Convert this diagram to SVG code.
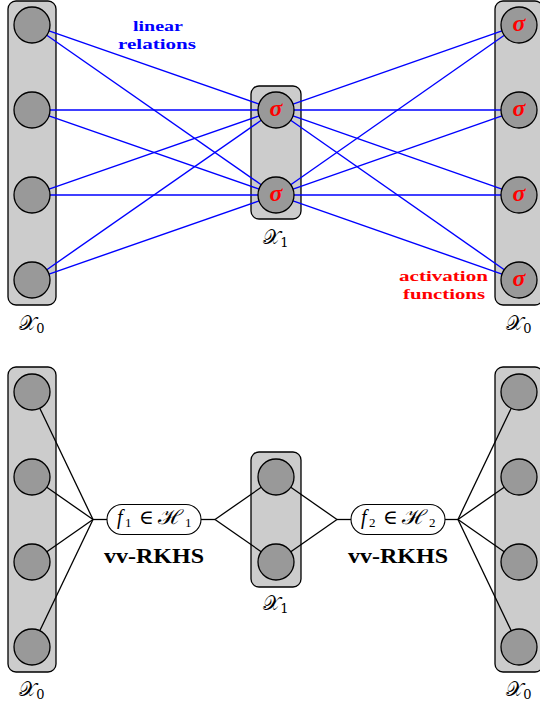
<svg xmlns="http://www.w3.org/2000/svg" width="540" height="705" viewBox="0 0 540 705">
<style>
.col{fill:#cccccc;stroke:#000;stroke-width:1.3}
.nd{fill:#999999;stroke:#000;stroke-width:1.3}
.pill{fill:#fff;stroke:#000;stroke-width:1.1}
.lin{stroke:#0000ff;stroke-width:1.4;fill:none}
.blk{stroke:#000;stroke-width:1.3;fill:none}
.sig{font-family:"Liberation Serif","DejaVu Serif",serif;font-weight:bold;font-style:italic;font-size:24px;fill:#ff0000;text-anchor:middle}
.lbl{font-family:"Liberation Serif",serif;font-weight:bold;font-size:15px;text-anchor:middle}
.rk{font-family:"Liberation Serif",serif;font-weight:bold;font-size:21px;text-anchor:middle;fill:#000}
.cal{font-family:"DejaVu Serif","DejaVu Sans","Noto Sans",serif;font-size:20px;text-anchor:middle;fill:#000}
.math{font-family:"Liberation Serif","DejaVu Serif",serif;font-size:20px;fill:#000}
.sub{font-size:13px}
</style>

<!-- containers (top) -->
<g id="layer-x0-in-top">
<rect class="col" x="8" y="1" width="48" height="304" rx="8"/>
<text class="cal" x="32" y="330">𝒳<tspan class="sub" dy="3">0</tspan></text>
</g>
<g id="layer-x1-top">
<rect class="col" x="251" y="86" width="50" height="133" rx="8"/>
<text class="cal" x="276" y="244">𝒳<tspan class="sub" dy="3">1</tspan></text>
</g>
<g id="layer-x0-out-top">
<rect class="col" x="495" y="1" width="48" height="304" rx="8"/>
<text class="cal" x="519" y="330">𝒳<tspan class="sub" dy="3">0</tspan></text>
</g>

<!-- containers (bottom) -->
<g id="layer-x0-in-bottom">
<rect class="col" x="8" y="367" width="48" height="305" rx="8"/>
<text class="cal" x="32" y="696">𝒳<tspan class="sub" dy="3">0</tspan></text>
</g>
<g id="layer-x1-bottom">
<rect class="col" x="251" y="452" width="50" height="135" rx="8"/>
<text class="cal" x="276" y="610">𝒳<tspan class="sub" dy="3">1</tspan></text>
</g>
<g id="layer-x0-out-bottom">
<rect class="col" x="495" y="367" width="48" height="305" rx="8"/>
<text class="cal" x="519" y="696">𝒳<tspan class="sub" dy="3">0</tspan></text>
</g>

<!-- connectors -->
<g id="connectors">
<g class="lin">
<line x1="49" y1="30.9" x2="259" y2="104.1"/>
<line x1="46.8" y1="35.3" x2="261.2" y2="184.7"/>
<line x1="50" y1="110" x2="258" y2="110"/>
<line x1="49" y1="115.9" x2="259" y2="189.1"/>
<line x1="49" y1="189.1" x2="259" y2="115.9"/>
<line x1="50" y1="195" x2="258" y2="195"/>
<line x1="46.8" y1="269.7" x2="261.2" y2="120.3"/>
<line x1="49" y1="274.1" x2="259" y2="200.9"/>
<line x1="293" y1="104.1" x2="502" y2="30.9"/>
<line x1="294" y1="110" x2="501" y2="110"/>
<line x1="293" y1="115.9" x2="502" y2="189.1"/>
<line x1="290.7" y1="120.3" x2="504.3" y2="269.7"/>
<line x1="290.7" y1="184.7" x2="504.3" y2="35.3"/>
<line x1="293" y1="189.1" x2="502" y2="115.9"/>
<line x1="294" y1="195" x2="501" y2="195"/>
<line x1="293" y1="200.9" x2="502" y2="274.1"/>
</g>
<g class="blk">
<line x1="93" y1="519.5" x2="39.8" y2="408.2"/>
<line x1="93" y1="519.5" x2="46.8" y2="487.3"/>
<line x1="93" y1="519.5" x2="46.8" y2="551.7"/>
<line x1="93" y1="519.5" x2="39.8" y2="630.8"/>
<line x1="93" y1="519.5" x2="107" y2="519.5"/>
<line x1="201" y1="519.5" x2="215" y2="519.5"/>
<line x1="215" y1="519.5" x2="261.2" y2="487.3"/>
<line x1="215" y1="519.5" x2="261.2" y2="551.7"/>
<line x1="290.8" y1="487.3" x2="337" y2="519.5"/>
<line x1="290.8" y1="551.7" x2="337" y2="519.5"/>
<line x1="337" y1="519.5" x2="351" y2="519.5"/>
<line x1="445" y1="519.5" x2="458" y2="519.5"/>
<line x1="458" y1="519.5" x2="511.2" y2="408.2"/>
<line x1="458" y1="519.5" x2="504.2" y2="487.3"/>
<line x1="458" y1="519.5" x2="504.2" y2="551.7"/>
<line x1="458" y1="519.5" x2="511.2" y2="630.8"/>
</g>
</g>

<!-- top nodes -->
<g id="t-in-1"><circle class="nd" cx="32" cy="25" r="18"/></g>
<g id="t-in-2"><circle class="nd" cx="32" cy="110" r="18"/></g>
<g id="t-in-3"><circle class="nd" cx="32" cy="195" r="18"/></g>
<g id="t-in-4"><circle class="nd" cx="32" cy="280" r="18"/></g>
<g id="t-mid-1"><circle class="nd" cx="276" cy="110" r="18"/><text class="sig" x="276" y="115.5">σ</text></g>
<g id="t-mid-2"><circle class="nd" cx="276" cy="195" r="18"/><text class="sig" x="276" y="200.5">σ</text></g>
<g id="t-out-1"><circle class="nd" cx="519" cy="25" r="18"/><text class="sig" x="519" y="30.5">σ</text></g>
<g id="t-out-2"><circle class="nd" cx="519" cy="110" r="18"/><text class="sig" x="519" y="115.5">σ</text></g>
<g id="t-out-3"><circle class="nd" cx="519" cy="195" r="18"/><text class="sig" x="519" y="200.5">σ</text></g>
<g id="t-out-4"><circle class="nd" cx="519" cy="280" r="18"/><text class="sig" x="519" y="285.5">σ</text></g>

<g id="label-linear">
<text class="lbl" fill="#0000ff" x="158" y="30.5" textLength="50" lengthAdjust="spacingAndGlyphs">linear</text>
<text class="lbl" fill="#0000ff" x="157" y="48.5" textLength="78" lengthAdjust="spacingAndGlyphs">relations</text>
</g>
<g id="label-activation">
<text class="lbl" fill="#ff0000" x="443.5" y="281" textLength="89" lengthAdjust="spacingAndGlyphs">activation</text>
<text class="lbl" fill="#ff0000" x="444" y="299" textLength="82" lengthAdjust="spacingAndGlyphs">functions</text>
</g>

<!-- bottom nodes -->
<g id="b-in-1"><circle class="nd" cx="32" cy="392" r="18"/></g>
<g id="b-in-2"><circle class="nd" cx="32" cy="477" r="18"/></g>
<g id="b-in-3"><circle class="nd" cx="32" cy="562" r="18"/></g>
<g id="b-in-4"><circle class="nd" cx="32" cy="647" r="18"/></g>
<g id="b-mid-1"><circle class="nd" cx="276" cy="477" r="18"/></g>
<g id="b-mid-2"><circle class="nd" cx="276" cy="562" r="18"/></g>
<g id="b-out-1"><circle class="nd" cx="519" cy="392" r="18"/></g>
<g id="b-out-2"><circle class="nd" cx="519" cy="477" r="18"/></g>
<g id="b-out-3"><circle class="nd" cx="519" cy="562" r="18"/></g>
<g id="b-out-4"><circle class="nd" cx="519" cy="647" r="18"/></g>

<g id="f1">
<rect class="pill" x="107" y="504.5" width="94" height="30" rx="15"/>
<text class="math" y="524"><tspan x="117" font-style="italic">f</tspan><tspan x="125" class="sub" dy="3">1</tspan><tspan x="139" dy="-3">∈</tspan></text>
<text class="math" x="158" y="524" textLength="25" lengthAdjust="spacingAndGlyphs">ℋ</text>
<text class="math sub" x="185" y="527">1</text>
<text class="rk" x="154" y="562.5" textLength="100" lengthAdjust="spacingAndGlyphs">vv-RKHS</text>
</g>
<g id="f2">
<rect class="pill" x="351" y="504.5" width="94" height="30" rx="15"/>
<text class="math" y="524"><tspan x="361" font-style="italic">f</tspan><tspan x="369" class="sub" dy="3">2</tspan><tspan x="383" dy="-3">∈</tspan></text>
<text class="math" x="402" y="524" textLength="25" lengthAdjust="spacingAndGlyphs">ℋ</text>
<text class="math sub" x="429" y="527">2</text>
<text class="rk" x="398" y="562.5" textLength="100" lengthAdjust="spacingAndGlyphs">vv-RKHS</text>
</g>
</svg>
